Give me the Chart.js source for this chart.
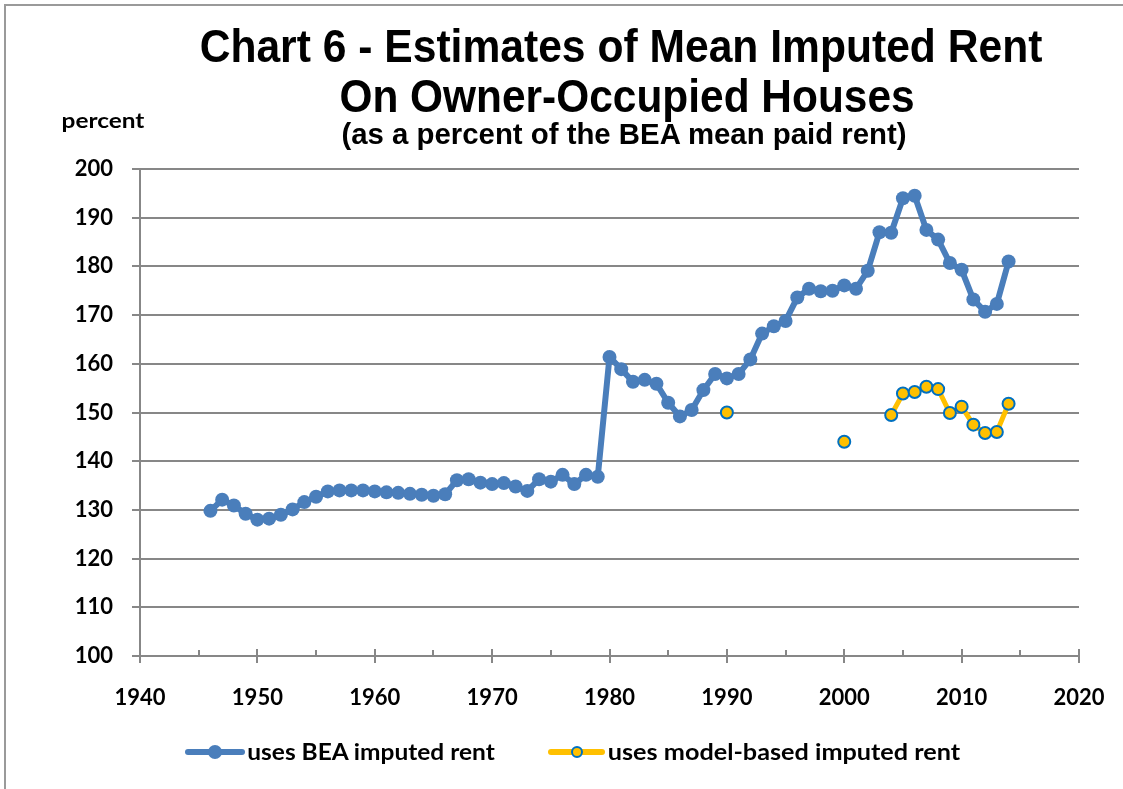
<!DOCTYPE html>
<html>
<head>
<meta charset="utf-8">
<title>Chart 6 - Estimates of Mean Imputed Rent</title>
<script src="https://cdn.jsdelivr.net/npm/chart.js@4.4.1/dist/chart.umd.min.js"></script>
<style>
  body { margin: 0; background: #fff; }
  #wrap { position: relative; width: 1123px; height: 789px; overflow: hidden; }
  #frame { position: absolute; left: 4px; top: 4px; width: 1200px; height: 900px;
           border-top: 2px solid #9a9a9a; border-left: 2px solid #9a9a9a; }
  .txt { position: absolute; white-space: nowrap; line-height: 1; color: #000; transform-origin: center center; }
  .arial { font-family: "Liberation Sans", Arial, sans-serif; font-weight: bold; }
  .lato { font-family: Lato, "Open Sans", sans-serif; font-weight: bold; }
  #legend .sample { position: absolute; height: 6px; border-radius: 3px; }
  #legend .dot { position: absolute; border-radius: 50%; box-sizing: border-box; }
  canvas { position: absolute; left: 0; top: 0; }
</style>
</head>
<body>
<div id="wrap">
  <div id="frame"></div>
  <canvas id="myChart" width="1123" height="789"></canvas>

  <div class="txt arial fit" data-cx="621" data-w="843" style="top:22px;font-size:47px;">Chart 6 - Estimates of Mean Imputed Rent</div>
  <div class="txt arial fit" data-cx="627" data-w="575" style="top:72px;font-size:47px;">On Owner-Occupied Houses</div>
  <div class="txt arial fit" data-cx="624" data-w="565" style="top:120px;font-size:29px;">(as a percent of the BEA mean paid rent)</div>
  <div class="txt lato fit" data-cx="103" data-w="83" style="top:110px;font-size:20px;">percent</div>

  <div id="legend">
    <div class="sample" style="left:185px;top:749px;width:60px;background:#4a7ebb;"></div>
    <div class="dot" style="left:208px;top:745px;width:14px;height:14px;background:#4a7ebb;"></div>
    <div class="txt lato fit" data-cx="371" data-w="248" style="top:741px;font-size:22px;">uses BEA imputed rent</div>

    <div class="sample" style="left:548px;top:749px;width:57px;background:#ffc000;"></div>
    <div class="dot" style="left:571px;top:746px;width:12px;height:12px;background:#ffc000;border:2px solid #0070c0;"></div>
    <div class="txt lato fit" data-cx="784" data-w="352" style="top:741px;font-size:22px;">uses model-based imputed rent</div>
  </div>
</div>

<script>
// Years with a BEA-based estimate
var beaYears = [];
for (let y = 1946; y <= 2014; y++) beaYears.push(y);

// Mean imputed rent as % of BEA mean paid rent (BEA imputed rent)
var beaValues = [
  129.8, 132.1, 130.9, 129.2, 128.0, 128.2, 129.0, 130.1, 131.6, 132.7,
  133.8, 134.0, 134.0, 134.0, 133.8, 133.6, 133.5, 133.3, 133.1, 132.9,
  133.2, 136.1, 136.3, 135.6, 135.3, 135.5, 134.8, 133.9, 136.3, 135.8,
  137.2, 135.3, 137.2, 136.8, 161.4, 158.9, 156.3, 156.7, 155.9, 152.0,
  149.2, 150.5, 154.6, 157.9, 157.0, 157.9, 160.9, 166.2, 167.7, 168.8,
  173.6, 175.4, 174.9, 175.0, 176.1, 175.4, 179.1, 187.0, 186.9, 194.0,
  194.5, 187.5, 185.5, 180.7, 179.3, 173.2, 170.7, 172.3, 181.0
];

// Model-based imputed rent
var modelYears = [1990, 2000, 2004, 2005, 2006, 2007, 2008, 2009, 2010, 2011, 2012, 2013, 2014];
var modelValues = [150.0, 144.0, 149.5, 153.9, 154.2, 155.3, 154.8, 149.9, 151.2, 147.5, 145.8, 146.0, 151.8];

var xTicks = [1940, 1950, 1960, 1970, 1980, 1990, 2000, 2010, 2020];
var yMin = 100, yMax = 200, yStep = 10;

var blue = "#4a7ebb";
var gold = "#ffc000";
var gridGray = "#878787";

// fit the html text to the widths measured on the picture
function fitText() {
  var items = document.getElementsByClassName("fit");
  for (let i = 0; i < items.length; i++) {
    var el = items[i];
    var w = el.offsetWidth;
    var s = parseFloat(el.dataset.w) / w;
    el.style.left = el.dataset.cx + "px";
    el.style.transform = "translateX(-50%) scaleX(" + s + ")";
  }
}

function buildBea() {
  var pts = [];
  for (let i = 0; i < beaYears.length; i++) pts.push({ x: beaYears[i], y: beaValues[i] });
  return pts;
}

function buildModel() {
  // break the line where years are not consecutive
  var pts = [];
  for (let i = 0; i < modelYears.length; i++) {
    if (i > 0 && modelYears[i] - modelYears[i - 1] > 1) {
      pts.push({ x: (modelYears[i] + modelYears[i - 1]) / 2, y: null });
    }
    pts.push({ x: modelYears[i], y: modelValues[i] });
  }
  return pts;
}

// tick marks on the x axis: long ones every 10 years, short ones at 5
var axisTicks = {
  id: "axisTicks",
  afterDraw(chart) {
    var ctx = chart.ctx;
    var sx = chart.scales.x;
    var bottom = chart.chartArea.bottom;
    ctx.save();
    ctx.strokeStyle = gridGray;
    ctx.lineWidth = 2;
    for (let yr = sx.min; yr <= sx.max; yr += 5) {
      var px = Math.round(sx.getPixelForValue(yr));
      ctx.beginPath();
      if (yr % 10 === 0) {
        ctx.moveTo(px, bottom - 7);
        ctx.lineTo(px, bottom + 7);
      } else {
        ctx.moveTo(px, bottom - 6);
        ctx.lineTo(px, bottom);
      }
      ctx.stroke();
    }
    ctx.restore();
  }
};

Chart.defaults.font.family = "Lato, 'Open Sans', sans-serif";
Chart.defaults.font.weight = "bold";
Chart.defaults.color = "#000";

window.addEventListener("load", () => {
  fitText();

  var context = document.getElementById("myChart").getContext("2d");
  new Chart(context, {
    type: "line",
    data: {
      datasets: [
        {
          label: "uses model-based imputed rent",
          data: buildModel(),
          borderColor: gold,
          backgroundColor: gold,
          borderWidth: 5,
          pointRadius: 6,
          pointBackgroundColor: gold,
          pointBorderColor: "#0070c0",
          pointBorderWidth: 2,
          tension: 0,
          spanGaps: false,
          order: 1
        },
        {
          label: "uses BEA imputed rent",
          data: buildBea(),
          borderColor: blue,
          backgroundColor: blue,
          borderWidth: 6,
          pointRadius: 7,
          pointBackgroundColor: blue,
          pointBorderWidth: 0,
          tension: 0,
          order: 2
        }
      ]
    },
    options: {
      responsive: false,
      animation: false,
      layout: { padding: { left: 0, top: 169, right: 44, bottom: 83 } },
      plugins: {
        legend: { display: false },
        title: { display: false },
        tooltip: { enabled: false }
      },
      scales: {
        x: {
          type: "linear",
          min: xTicks[0],
          max: xTicks[xTicks.length - 1],
          afterFit(scale) {
            scale.height = 50;
            scale.paddingLeft = 0;
            scale.paddingRight = 0;
          },
          afterBuildTicks(scale) { scale.ticks = xTicks.map(v => ({ value: v })); },
          grid: { display: false },
          border: { display: true, color: gridGray, width: 2 },
          ticks: {
            padding: 21,
            font: { size: 22, weight: "bold" },
            color: "#000",
            callback: (v) => String(v)
          }
        },
        y: {
          min: yMin,
          max: yMax,
          afterFit(scale) { scale.width = 140; },
          grid: { color: gridGray, lineWidth: 2, drawTicks: true, tickLength: 8 },
          border: { display: true, color: gridGray, width: 2 },
          ticks: { stepSize: yStep, padding: 19, font: { size: 22, weight: "bold" }, color: "#000" }
        }
      }
    },
    plugins: [axisTicks]
  });
});
</script>
</body>
</html>
